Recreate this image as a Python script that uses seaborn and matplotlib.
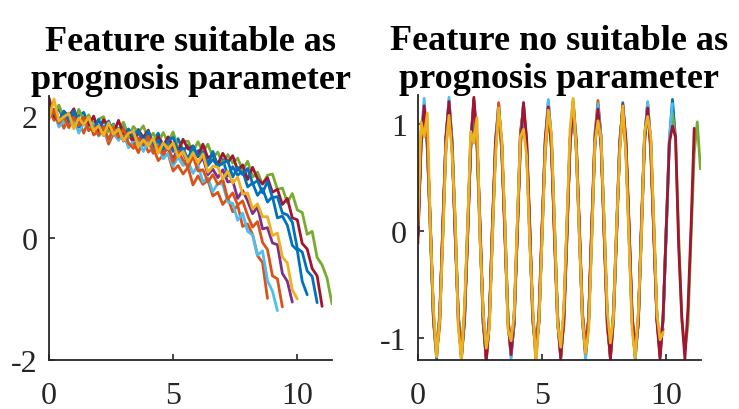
import numpy as np
import pandas as pd
import matplotlib
matplotlib.use("Agg")
import matplotlib.pyplot as plt
import seaborn as sns

sns.set_style("ticks")
plt.rcParams["font.family"] = ["Liberation Serif", "DejaVu Serif"]
plt.rcParams["axes.unicode_minus"] = False

# MATLAB default colour order
colors = {
    "blue": "#0072BD", "orange": "#D95319", "yellow": "#EDB120",
    "purple": "#7E2F8E", "green": "#77AC30", "lightblue": "#4DBEEE",
    "red": "#A2142F",
}

# ---- left panel: degrading feature, sampled every 0.2 time units
left_step = 0.2
left_blue_a = [2.15, 1.97, 2.14, 1.90, 2.01, 1.83, 2.01, 2.06, 1.85, 1.90,
               1.73, 1.95, 1.79, 1.87, 1.68, 1.89, 1.65, 1.72, 1.78, 1.52,
               1.70, 1.60, 1.72, 1.50, 1.58, 1.42, 1.63, 1.43, 1.52, 1.32,
               1.43, 1.46, 1.19, 1.29, 1.17, 1.29, 1.02, 1.17, 1.03, 1.10,
               0.84, 0.90, 0.70, 0.81, 0.59, 0.68, 0.33, 0.36, 0.21, -0.12,
               -0.20, -0.71, -0.93]
left_orange_a = [2.15, 1.93, 1.97, 1.80, 2.01, 1.85, 1.92, 1.72, 1.94, 1.69,
                 1.75, 1.80, 1.54, 1.72, 1.61, 1.72, 1.50, 1.57, 1.40, 1.61,
                 1.41, 1.48, 1.27, 1.36, 1.38, 1.10, 1.19, 1.05, 1.16, 0.87,
                 1.02, 0.88, 0.95, 0.69, 0.75, 0.55, 0.66, 0.43, 0.54, 0.19,
                 0.23, 0.06, -0.29, -0.40, -0.99]
left_yellow = [1.95, 2.28, 1.92, 1.99, 2.04, 1.79, 1.97, 1.86, 1.98, 1.76,
               1.84, 1.68, 1.89, 1.70, 1.79, 1.60, 1.72, 1.75, 1.50, 1.61,
               1.51, 1.64, 1.39, 1.56, 1.46, 1.56, 1.33, 1.42, 1.25, 1.40,
               1.23, 1.38, 1.08, 1.18, 1.16, 0.97, 1.10, 0.90, 1.00, 0.72,
               0.74, 0.48, 0.56, 0.35, 0.35, 0.04, 0.08, -0.31, -0.41, -0.85,
               -1.00]
left_purple = [2.03, 2.11, 1.88, 2.03, 1.88, 2.05, 1.87, 1.98, 1.77, 1.89,
               1.84, 1.68, 1.90, 1.69, 1.80, 1.59, 1.71, 1.56, 1.74, 1.58,
               1.61, 1.39, 1.59, 1.41, 1.46, 1.29, 1.49, 1.40, 1.22, 1.36,
               1.20, 1.32, 1.04, 1.13, 0.99, 1.12, 0.92, 0.94, 0.65, 0.78,
               0.61, 0.40, 0.51, 0.15, 0.17, -0.08, -0.11, -0.58, -0.71, -1.05]
left_green = [2.16, 2.06, 2.18, 1.97, 2.05, 1.89, 2.11, 1.92, 2.02, 1.83,
              1.95, 1.99, 1.74, 1.86, 1.76, 1.90, 1.65, 1.83, 1.73, 1.84,
              1.62, 1.72, 1.56, 1.73, 1.57, 1.74, 1.47, 1.58, 1.59, 1.41,
              1.58, 1.41, 1.54, 1.32, 1.41, 1.21, 1.37, 1.23, 1.31, 1.11,
              1.26, 1.00, 1.08, 0.88, 1.03, 1.05, 0.80, 0.82, 0.58, 0.73,
              0.46, 0.42, 0.06, 0.11, -0.32, -0.44, -0.66, -1.08]
left_lightblue = [2.03, 2.07, 1.82, 1.93, 1.83, 1.97, 1.72, 1.89, 1.79, 1.89,
                  1.67, 1.76, 1.60, 1.76, 1.60, 1.76, 1.48, 1.59, 1.60, 1.42,
                  1.58, 1.40, 1.53, 1.30, 1.39, 1.18, 1.33, 1.19, 1.26, 1.06,
                  1.20, 0.92, 0.99, 0.76, 0.90, 0.88, 0.59, 0.57, 0.29, 0.41,
                  0.11, 0.05, -0.28, -0.21, -0.70, -0.87, -1.19]
left_red = [2.30, 2.00, 1.91, 2.08, 1.99, 2.12, 1.86, 1.98, 1.85, 2.00,
            1.74, 1.94, 1.83, 1.72, 1.93, 1.71, 1.77, 1.61, 1.77, 1.65,
            1.77, 1.51, 1.66, 1.51, 1.66, 1.50, 1.42, 1.62, 1.46, 1.51,
            1.33, 1.54, 1.31, 1.37, 1.21, 1.39, 1.24, 1.35, 1.11, 1.20,
            0.96, 1.16, 0.97, 0.89, 0.99, 0.75, 0.80, 0.55, 0.65, 0.33,
            0.30, -0.09, -0.18, -0.50, -0.62, -1.12]
left_blue_b = [1.97, 2.07, 1.91, 2.08, 1.92, 2.09, 1.82, 1.94, 1.94, 1.77,
               1.94, 1.78, 1.92, 1.70, 1.80, 1.61, 1.79, 1.67, 1.76, 1.58,
               1.75, 1.51, 1.61, 1.43, 1.60, 1.65, 1.42, 1.47, 1.29, 1.51,
               1.34, 1.41, 1.21, 1.42, 1.17, 1.23, 1.27, 1.00, 1.16, 1.04,
               1.14, 0.89, 0.94, 0.74, 0.93, 0.66, 0.68, 0.41, 0.38, 0.26,
               -0.17, -0.23, -0.54, -0.63, -1.06]
left_orange_b = [1.96, 2.09, 1.88, 1.99, 1.81, 1.98, 1.84, 1.98, 1.76, 1.83,
                 1.69, 1.83, 1.61, 1.81, 1.65, 1.79, 1.56, 1.47, 1.64, 1.55,
                 1.67, 1.40, 1.51, 1.37, 1.51, 1.24, 1.42, 1.28, 1.16, 1.34,
                 1.10, 1.12, 0.92, 1.04, 0.88, 0.96, 0.64, 0.74, 0.54, 0.61,
                 0.37, 0.18, 0.27, -0.07, -0.19, -0.62, -0.67, -1.13]

# ---- right panel: oscillating feature, sampled every 0.125 time units
right_step = 0.125
right_blue = [0.02, 0.85, 1.18, 0.78, 0.05, -0.84, -1.20, -0.76,
              -0.03, 0.88, 1.22, 0.83, -0.04, -0.79, -1.17, -0.85,
              0.06, 0.76, 1.12, 0.86, 0.02, -0.86, -1.21, -0.80,
              -0.05, 0.83, 1.19, 0.74, 0.07, -0.82, -1.14, -0.88,
              0.03, 0.90, 1.10, 0.80, -0.06, -0.77, -1.19, -0.83,
              -0.02, 0.79, 1.16, 0.87, 0.04, -0.85, -1.12, -0.78,
              0.05, 0.86, 1.21, 0.77, -0.03, -0.80, -1.18, -0.86,
              -0.04, 0.81, 1.13, 0.84, 0.06, -0.88, -1.16, -0.75,
              0.02, 0.77, 1.20, 0.79, -0.05, -0.78, -1.21, -0.84,
              0.04, 0.89, 1.11, 0.85, 0.01, -0.83, -1.15, -0.79,
              -0.03, 0.84, 1.23, 0.86]
right_orange = [-0.12, 0.92, 1.05, 0.88, -0.02, -0.78, -1.14, -0.90,
                0.07, 0.74, 1.17, 0.79, 0.08, -0.87, -1.08, -0.77,
                -0.06, 0.87, 1.02, 0.91, -0.07, -0.75, -1.19, -0.86,
                0.09, 0.80, 1.20, 0.72, 0.03, -0.89, -1.10, -0.81,
                -0.04, 0.93, 1.14, 0.86, 0.05, -0.80, -1.21, -0.74,
                0.06, 0.72, 1.08, 0.83, -0.08, -0.86, -1.13, -0.89,
                -0.07, 0.85, 1.16, 0.75, 0.04, -0.76, -1.07, -0.82,
                0.05, 0.91, 1.22, 0.88, -0.05, -0.91, -1.17, -0.76,
                -0.02, 0.78, 1.09, 0.80, 0.07, -0.79, -1.12, -0.87,
                0.08, 0.86, 1.19, 0.73, -0.04, -0.84, -1.06, -0.92]
right_yellow = [0.05, 1.02, 0.88, 1.10, 0.02, -0.74, -1.18, -0.83,
                -0.08, 0.78, 1.08, 0.72, 0.09, -0.90, -1.22, -0.70,
                0.04, 0.93, 0.82, 1.06, -0.06, -0.76, -1.10, -0.91,
                -0.03, 0.71, 1.15, 0.85, 0.08, -0.92, -1.03, -0.78,
                0.07, 0.88, 0.95, 0.70, -0.09, -0.73, -1.23, -0.85,
                -0.05, 0.76, 1.13, 0.90, 0.06, -0.88, -1.09, -0.72,
                0.09, 0.95, 1.24, 0.78, -0.04, -0.81, -1.15, -0.93,
                -0.07, 0.82, 1.03, 0.86, 0.05, -0.75, -1.05, -0.80,
                0.03, 0.74, 1.17, 0.71, -0.08, -0.93, -1.19, -0.77,
                -0.04, 0.92, 1.07, 0.89, 0.07, -0.78, -1.02, -0.95]
right_purple = [-0.04, 0.79, 1.12, 0.84, 0.06, -0.83, -1.16, -0.80,
                0.03, 0.86, 1.19, 0.77, -0.05, -0.78, -1.20, -0.84,
                -0.06, 0.82, 1.23, 0.88, 0.04, -0.87, -1.13, -0.79,
                0.05, 0.75, 1.14, 0.81, -0.03, -0.81, -1.18, -0.86,
                -0.02, 0.87, 1.17, 0.76, 0.07, -0.84, -1.11, -0.77,
                0.04, 0.80, 1.21, 0.85, -0.06, -0.79, -1.20, -0.83,
                -0.05, 0.84, 1.15, 0.79, 0.03, -0.86, -1.14, -0.81,
                0.06, 0.78, 1.18, 0.87, -0.04, -0.80, -1.19, -0.85,
                -0.03, 0.85, 1.13, 0.75, 0.05, -0.85, -1.17, -0.78,
                0.02, 0.81, 1.20, 0.83, -0.02, -0.82, -1.12, -0.84,
                0.03]
right_green = [0.04, 0.83, 1.14, 0.80, -0.03, -0.85, -1.18, -0.82,
               -0.05, 0.80, 1.20, 0.86, 0.04, -0.80, -1.15, -0.79,
               0.03, 0.88, 1.16, 0.78, -0.06, -0.83, -1.21, -0.86,
               -0.02, 0.77, 1.11, 0.84, 0.05, -0.79, -1.16, -0.80,
               0.06, 0.85, 1.19, 0.81, -0.04, -0.86, -1.13, -0.84,
               -0.04, 0.82, 1.15, 0.76, 0.03, -0.81, -1.19, -0.78,
               0.05, 0.79, 1.22, 0.85, -0.05, -0.84, -1.14, -0.83,
               -0.03, 0.87, 1.12, 0.80, 0.06, -0.78, -1.20, -0.81,
               0.04, 0.80, 1.17, 0.83, -0.02, -0.85, -1.16, -0.87,
               -0.05, 0.84, 1.14, 0.77, 0.04, -0.80, -1.18, -0.79,
               0.02, 0.86, 1.10, 0.85, -0.03, -0.83, -1.12, -0.88,
               -0.06, 0.72, 1.02, 0.58]
right_lightblue = [0.08, 0.88, 1.24, 0.82, -0.02, -0.80, -1.13, -0.84,
                   -0.04, 0.84, 1.25, 0.79, 0.05, -0.86, -1.19, -0.77,
                   0.02, 0.81, 1.18, 0.87, -0.05, -0.78, -1.15, -0.85,
                   -0.06, 0.89, 1.13, 0.80, 0.04, -0.84, -1.20, -0.79,
                   0.05, 0.78, 1.20, 0.76, -0.03, -0.81, -1.12, -0.86,
                   -0.03, 0.86, 1.23, 0.84, 0.06, -0.87, -1.17, -0.80,
                   0.04, 0.80, 1.15, 0.78, -0.04, -0.79, -1.21, -0.83,
                   -0.05, 0.85, 1.19, 0.86, 0.03, -0.83, -1.14, -0.78,
                   0.03, 0.83, 1.14, 0.79, -0.06, -0.86, -1.18, -0.85,
                   -0.02, 0.88, 1.21, 0.83, 0.05, -0.80, -1.16, -0.81,
                   0.04, 0.86, 1.19]
right_red = [-0.05, 0.82, 1.17, 0.83, 0.04, -0.82, -1.14, -0.83,
             0.04, 0.87, 1.21, 0.78, -0.03, -0.84, -1.18, -0.80,
             -0.03, 0.80, 1.25, 0.85, 0.05, -0.79, -1.22, -0.86,
             0.05, 0.84, 1.13, 0.80, -0.04, -0.85, -1.16, -0.78,
             -0.04, 0.79, 1.20, 0.86, 0.03, -0.80, -1.13, -0.85,
             0.03, 0.86, 1.16, 0.77, -0.05, -0.86, -1.19, -0.81,
             -0.02, 0.81, 1.19, 0.84, 0.04, -0.78, -1.15, -0.84,
             0.05, 0.85, 1.14, 0.79, -0.03, -0.84, -1.20, -0.79,
             -0.04, 0.80, 1.18, 0.86, 0.05, -0.81, -1.14, -0.86,
             0.03, 0.87, 1.15, 0.78, -0.04, -0.85, -1.21, -0.80,
             0.03, 0.82, 0.98, 0.88, -0.15, -0.80, -1.20, -0.72,
             0.05, 0.96]

left_runs = {
    "blue_a": (left_blue_a, colors["blue"]),
    "orange_a": (left_orange_a, colors["orange"]),
    "purple": (left_purple, colors["purple"]),
    "green": (left_green, colors["green"]),
    "lightblue": (left_lightblue, colors["lightblue"]),
    "red": (left_red, colors["red"]),
    "blue_b": (left_blue_b, colors["blue"]),
    "orange_b": (left_orange_b, colors["orange"]),
    "yellow": (left_yellow, colors["yellow"]),
}
right_runs = {
    "blue": (right_blue, colors["blue"]),
    "orange": (right_orange, colors["orange"]),
    "purple": (right_purple, colors["purple"]),
    "green": (right_green, colors["green"]),
    "lightblue": (right_lightblue, colors["lightblue"]),
    "red": (right_red, colors["red"]),
    "yellow": (right_yellow, colors["yellow"]),
}


def long_frame(runs, step):
    parts = []
    for name, (values, _) in runs.items():
        t = np.arange(len(values)) * step
        parts.append(pd.DataFrame({"t": t, "value": values, "run": name}))
    return pd.concat(parts, ignore_index=True)


fig = plt.figure(figsize=(7.39, 4.10), dpi=100)
ax1 = fig.add_axes([0.0663, 0.1195, 0.383, 0.644])
ax2 = fig.add_axes([0.5656, 0.1195, 0.383, 0.646])

panels = [
    (ax1, left_runs, left_step, "Feature suitable as\nprognosis parameter",
     (-2, 2.33), [-2, 0, 2]),
    (ax2, right_runs, right_step, "Feature no suitable as\nprognosis parameter",
     (-1.21, 1.27), [-1, 0, 1]),
]

for ax, runs, step, title, ylim, yticks in panels:
    df = long_frame(runs, step)
    sns.lineplot(data=df, x="t", y="value", hue="run", hue_order=list(runs),
                 palette={k: c for k, (_, c) in runs.items()},
                 estimator=None, sort=False, legend=False, linewidth=2.0, ax=ax)
    ax.set_xlim(0, 11.4)
    ax.set_ylim(*ylim)
    ax.set_xticks([0, 5, 10])
    ax.set_yticks(yticks)
    ax.set_xlabel("")
    ax.set_ylabel("")
    ax.set_title(title, fontsize=26, fontweight="bold", color="black", pad=4.5)
    sns.despine(ax=ax)
    for s in ("left", "bottom"):
        ax.spines[s].set_linewidth(1.3)
        ax.spines[s].set_color("#262626")
    ax.tick_params(direction="in", length=4, width=1.2, colors="#262626",
                   labelsize=23)
    ax.tick_params(axis="x", pad=15)
    ax.tick_params(axis="y", pad=8)

fig.savefig("out.png", dpi=100)
